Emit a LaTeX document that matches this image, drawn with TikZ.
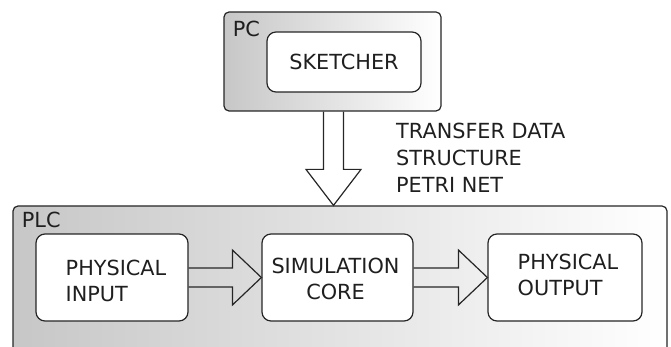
\documentclass[tikz,border=0pt]{standalone}
\usepackage{fontspec}
\setmainfont{DejaVu Sans}
\usetikzlibrary{calc}
\begin{document}
\begin{tikzpicture}[x=1pt,y=-1pt,
  txt/.style={font=\fontsize{20.8}{25.5}\selectfont, text=black!88, inner sep=0pt},
  outerbox/.style={draw=black!85, line width=1.2pt, rounded corners=5pt, left color=black!22, right color=white, shading angle=90, inner sep=0pt},
  innerbox/.style={draw=black!85, line width=1.2pt, rounded corners=9pt, fill=white, inner sep=0pt, minimum height=87pt},
  hollow/.style={draw=black!85, line width=1.2pt, line join=miter}
]
\useasboundingbox (0,0) rectangle (671,347);
\clip (0,0) rectangle (671,347);
% PC container
\node[outerbox, minimum width=217pt, minimum height=99pt] (pc) at (332.5,61.5) {};
\node[txt, anchor=base west] (pclbl) at (232.7,37) {PC};
\node[innerbox, minimum width=154pt, minimum height=60pt, txt] (sk) at (344,62) {SKETCHER};
% PLC container
\node[outerbox, minimum width=654pt, minimum height=164pt] (plc) at (340,288) {};
\node[txt, anchor=base west] (plclbl) at (21.7,228) {PLC};
% inner boxes
\node[innerbox, minimum width=152pt] (in) at (112,277.5) {};
\node[txt, align=left] (intxt) at (116,281) {PHYSICAL\\INPUT};
\node[innerbox, minimum width=151pt] (sim) at (337.5,277.5) {};
\node[txt, align=center] (simtxt) at (335.5,279) {SIMULATION\\CORE};
\node[innerbox, minimum width=154pt] (out) at (565,277.5) {};
\node[txt, align=left] (outtxt) at (568,275) {PHYSICAL\\OUTPUT};
% transfer label
\node[txt, align=left, anchor=north west, font=\fontsize{20.8}{27}\selectfont] (tr) at (396,123) {TRANSFER DATA\\STRUCTURE\\PETRI NET};
% transfer arrow, from PC to PLC
\coordinate (ttop) at ($(pc.south)+(1,0)$);
\coordinate (tend) at (ttop |- plc.north);
\draw[hollow] ($(ttop)+(-10,0)$) -- ($(tend)+(-10,-36)$) -- ($(tend)+(-27.5,-36)$) -- (tend)
  -- ($(tend)+(27.5,-36)$) -- ($(tend)+(10,-36)$) -- ($(ttop)+(10,0)$);
% horizontal arrows
\draw[hollow] ($(in.east)+(0,-9.5)$) -- ($(sim.west)+(-29,-9.5)$) -- ($(sim.west)+(-29,-27.5)$) -- (sim.west)
  -- ($(sim.west)+(-29,27.5)$) -- ($(sim.west)+(-29,9.5)$) -- ($(in.east)+(0,9.5)$);
\draw[hollow] ($(sim.east)+(0,-9.5)$) -- ($(out.west)+(-29,-9.5)$) -- ($(out.west)+(-29,-27.5)$) -- (out.west)
  -- ($(out.west)+(-29,27.5)$) -- ($(out.west)+(-29,9.5)$) -- ($(sim.east)+(0,9.5)$);
\end{tikzpicture}
\end{document}
